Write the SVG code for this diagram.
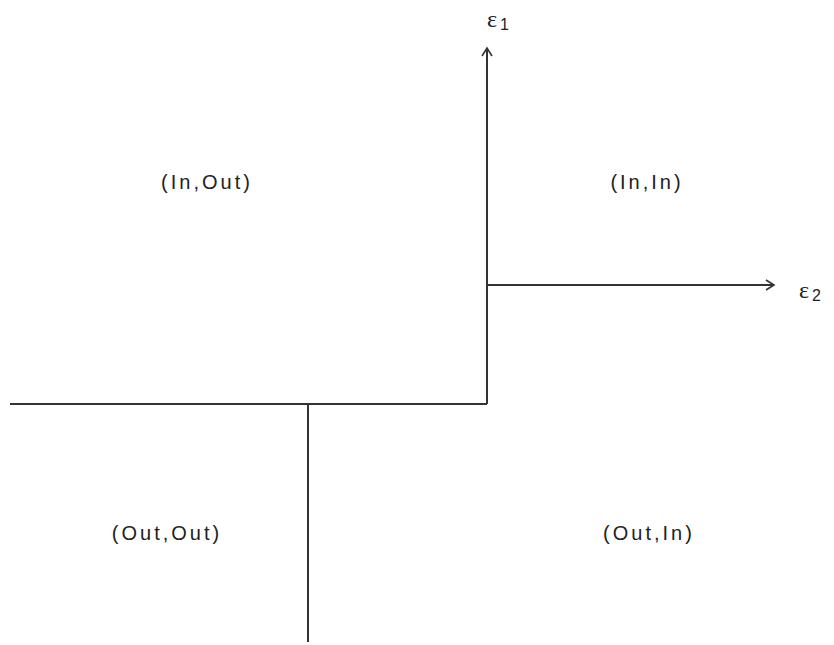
<svg xmlns="http://www.w3.org/2000/svg" width="834" height="645" viewBox="0 0 834 645">
<style>
.ln{stroke:#333;stroke-width:2;fill:none}
.t{font-family:"Liberation Sans",Arial,sans-serif;font-size:20px;letter-spacing:3px;fill:#222;text-anchor:middle}
.e{font-family:"Liberation Serif",serif;font-size:24px;fill:#222}
.s{font-family:"Liberation Sans",Arial,sans-serif;font-size:16px;fill:#222}
</style>
<defs>
<marker id="ah" markerWidth="12" markerHeight="12" refX="10" refY="6" orient="auto" markerUnits="userSpaceOnUse">
<path d="M2,1 L10,6 L2,11" fill="none" stroke="#333" stroke-width="1.6"/>
</marker>
</defs>
<rect width="834" height="645" fill="#fff"/>
<g id="connectors">
<line class="ln" x1="487" y1="404" x2="487" y2="48" marker-end="url(#ah)"/>
<line class="ln" x1="487" y1="285" x2="774" y2="285" marker-end="url(#ah)"/>
<line class="ln" x1="10" y1="404" x2="487" y2="404"/>
<line class="ln" x1="308" y1="404" x2="308" y2="642"/>
</g>
<g id="eps1"><text class="e" x="487" y="27">ε<tspan class="s" dx="3" dy="3">1</tspan></text></g>
<g id="eps2"><text class="e" x="799" y="298">ε<tspan class="s" dx="3" dy="3">2</tspan></text></g>
<g id="inout"><text class="t" x="207" y="189">(In,Out)</text></g>
<g id="inin"><text class="t" x="647" y="189">(In,In)</text></g>
<g id="outout"><text class="t" x="167" y="540">(Out,Out)</text></g>
<g id="outin"><text class="t" x="649" y="540">(Out,In)</text></g>
</svg>
